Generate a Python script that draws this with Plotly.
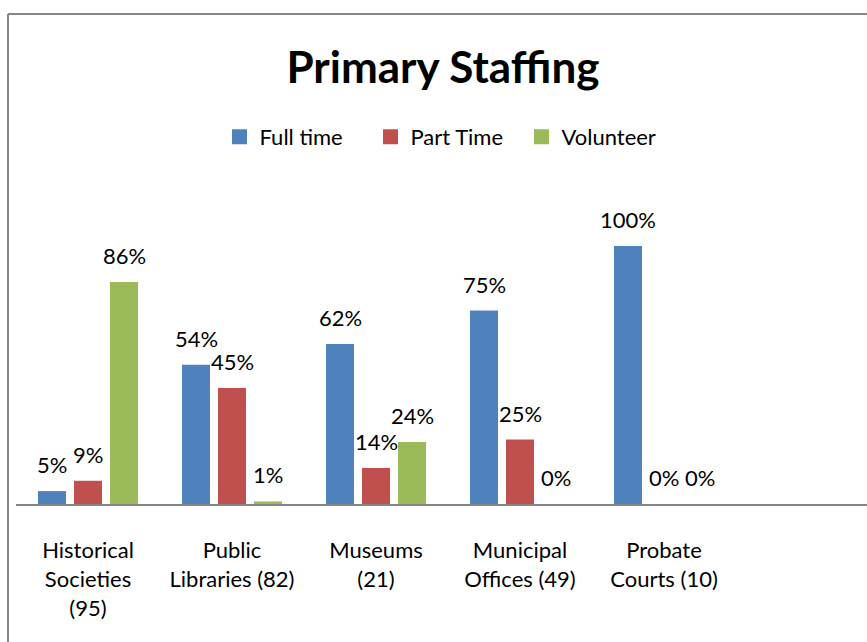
import plotly.graph_objects as go

categories = ["Historical<br>Societies<br>(95)", "Public<br>Libraries (82)", "Museums<br>(21)",
              "Municipal<br>Offices (49)", "Probate<br>Courts (10)"]
series_names = ["Full time", "Part Time", "Volunteer"]
full_time = [5, 54, 62, 75, 100]
part_time = [9, 45, 14, 25, 0]
volunteer = [86, 1, 24, 0, 0]
colors = ["#4F81BD", "#C0504D", "#9BBB59"]

FONT = "Lato"
W, H = 867, 642
ml, mr, mt, mb = 16, 0, 200, 138
plot_w = W - ml - mr
plot_h = H - mt - mb
cat_px = 144.0
px_per_unit = 2.58

fig = go.Figure()
all_series = [full_time, part_time, volunteer]
for name, vals, col in zip(series_names, all_series, colors):
    fig.add_trace(go.Bar(x=categories, y=vals, name=name, showlegend=False,
                         marker=dict(color=col, line=dict(width=0))))
# legend entries with larger square swatches
for name, col in zip(series_names, colors):
    fig.add_trace(go.Scatter(x=[None], y=[None], mode="markers", name=name,
                             marker=dict(symbol="square", size=15, color=col)))

# data labels
slot = cat_px * (1 - 0.25) / 3
for j, vals in enumerate(all_series):
    for c, v in zip(categories, vals):
        fig.add_annotation(x=c, y=v, text=f"{v}%", showarrow=False, xref="x", yref="y",
                           xanchor="center", yanchor="bottom", xshift=(j - 1) * slot, yshift=11,
                           font=dict(family=FONT, size=22, color="#000000"))

# chart border (top and left visible)
top_y = (H - mb - 14) / plot_h
left_x = (8 - ml) / plot_w
fig.add_shape(type="line", xref="paper", yref="paper", x0=left_x, x1=1.2, y0=top_y, y1=top_y,
              line=dict(color="#868686", width=2))
fig.add_shape(type="line", xref="paper", yref="paper", x0=left_x, x1=left_x, y0=top_y, y1=-1,
              line=dict(color="#868686", width=2))

fig.update_layout(
    width=W, height=H,
    margin=dict(l=ml, r=mr, t=mt, b=mb),
    paper_bgcolor="white", plot_bgcolor="white",
    barmode="group", bargap=0.25, bargroupgap=0.222,
    font=dict(family=FONT, size=22, color="#000000"),
    title=dict(text="<b>Primary Staffing</b>", xref="container", yref="container",
               x=443 / W, y=1 - 68 / H, xanchor="center", yanchor="middle",
               font=dict(family=FONT, size=44, color="#000000")),
    legend=dict(orientation="h", xref="container", yref="container",
                x=446 / W, y=1 - 137 / H, xanchor="center", yanchor="middle",
                font=dict(family=FONT, size=22), itemwidth=30, entrywidth=106,
                traceorder="normal"),
    xaxis=dict(type="category", range=[-0.5, -0.5 + plot_w / cat_px], showline=True,
               linecolor="#868686", linewidth=2, showgrid=False, ticks="",
               ticklabelstandoff=26, tickfont=dict(family=FONT, size=22)),
    yaxis=dict(range=[0, plot_h / px_per_unit], visible=False, showgrid=False, zeroline=False),
)

fig.write_html("out.html", config={"displayModeBar": False},
               post_script="document.body.style.margin='0';document.body.style.padding='0';")
